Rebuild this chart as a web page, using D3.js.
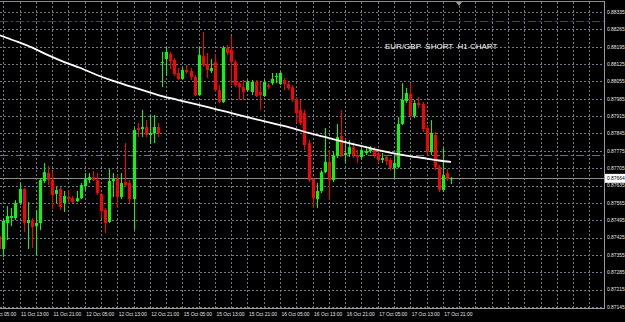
<!DOCTYPE html>
<html>
<head>
<meta charset="utf-8">
<script src="https://cdn.jsdelivr.net/npm/d3@7"></script>
<style>
body { margin: 0; background: #000; }
svg { display: block; }
</style>
</head>
<body>
<script>
(function(document, window){
'use strict';

// H1 bars, 11 Oct 08:00 .. 17 Oct 23:00 (weekend skipped)
var opens = [0.87431, 0.87379, 0.87484, 0.87504, 0.87504, 0.87564, 0.87621, 0.87484, 0.87496, 0.87471,
	0.87484, 0.87653, 0.87685, 0.87657, 0.87601, 0.87621, 0.87564, 0.87589, 0.87584, 0.87572,
	0.87584, 0.87633, 0.87657, 0.87669, 0.87657, 0.87601, 0.87536, 0.87488, 0.87653, 0.87661,
	0.87589, 0.87649, 0.87645, 0.87580, 0.87867, 0.87863, 0.87871, 0.87839, 0.87847, 0.87871,
	0.88129, 0.88145, 0.88166, 0.88141, 0.88089, 0.88065, 0.88101, 0.88097, 0.88073, 0.88000,
	0.88157, 0.88125, 0.88097, 0.88133, 0.88020, 0.87972, 0.88190, 0.88182, 0.88133, 0.88048,
	0.88032, 0.88020, 0.88012, 0.88053, 0.88012, 0.87996, 0.88040, 0.88048, 0.88073, 0.88044,
	0.88061, 0.88044, 0.88032, 0.87984, 0.87940, 0.87927, 0.87806, 0.87661, 0.87580, 0.87613,
	0.87689, 0.87730, 0.87657, 0.87754, 0.87835, 0.87758, 0.87762, 0.87790, 0.87758, 0.87750,
	0.87766, 0.87774, 0.87782, 0.87766, 0.87738, 0.87750, 0.87738, 0.87706, 0.87710, 0.87883,
	0.87976, 0.88004, 0.87915, 0.87968, 0.87964, 0.87867, 0.87770, 0.87839, 0.87710, 0.87617,
	0.87685, 0.87661];
var highs = [0.87447, 0.87500, 0.87552, 0.87544, 0.87576, 0.87645, 0.87625, 0.87568, 0.87504, 0.87536,
	0.87665, 0.87726, 0.87714, 0.87693, 0.87629, 0.87629, 0.87613, 0.87617, 0.87593, 0.87613,
	0.87645, 0.87685, 0.87685, 0.87693, 0.87685, 0.87605, 0.87544, 0.87701, 0.87685, 0.87677,
	0.87685, 0.87806, 0.87657, 0.87867, 0.87887, 0.87940, 0.87899, 0.87919, 0.87919, 0.87887,
	0.88174, 0.88194, 0.88174, 0.88149, 0.88109, 0.88113, 0.88121, 0.88109, 0.88081, 0.88194,
	0.88254, 0.88170, 0.88145, 0.88166, 0.88040, 0.88198, 0.88202, 0.88238, 0.88141, 0.88053,
	0.88061, 0.88061, 0.88061, 0.88061, 0.88053, 0.88061, 0.88048, 0.88089, 0.88089, 0.88093,
	0.88069, 0.88053, 0.88040, 0.87992, 0.87980, 0.87940, 0.87819, 0.87665, 0.87645, 0.87697,
	0.87867, 0.87778, 0.87770, 0.87883, 0.87940, 0.87819, 0.87819, 0.87810, 0.87778, 0.87786,
	0.87786, 0.87794, 0.87790, 0.87778, 0.87766, 0.87758, 0.87746, 0.87758, 0.87911, 0.88048,
	0.88028, 0.88048, 0.87980, 0.87992, 0.87972, 0.87879, 0.87899, 0.87851, 0.87718, 0.87786,
	0.87701, 0.87669];
var lows = [0.87367, 0.87346, 0.87415, 0.87471, 0.87496, 0.87556, 0.87447, 0.87379, 0.87383, 0.87354,
	0.87455, 0.87645, 0.87637, 0.87540, 0.87564, 0.87536, 0.87528, 0.87564, 0.87564, 0.87568,
	0.87580, 0.87617, 0.87645, 0.87653, 0.87597, 0.87504, 0.87443, 0.87484, 0.87589, 0.87544,
	0.87580, 0.87629, 0.87564, 0.87455, 0.87831, 0.87831, 0.87831, 0.87802, 0.87806, 0.87831,
	0.88032, 0.88077, 0.88105, 0.88077, 0.88061, 0.88061, 0.88085, 0.88061, 0.87996, 0.87996,
	0.88113, 0.88069, 0.88089, 0.88012, 0.87968, 0.87968, 0.88161, 0.88040, 0.88032, 0.87980,
	0.87980, 0.88012, 0.88000, 0.87992, 0.87940, 0.87992, 0.88024, 0.88040, 0.88048, 0.88040,
	0.88020, 0.88020, 0.87972, 0.87887, 0.87879, 0.87778, 0.87649, 0.87544, 0.87544, 0.87605,
	0.87685, 0.87576, 0.87649, 0.87746, 0.87750, 0.87730, 0.87750, 0.87746, 0.87726, 0.87742,
	0.87758, 0.87766, 0.87746, 0.87726, 0.87726, 0.87718, 0.87697, 0.87665, 0.87706, 0.87879,
	0.87968, 0.87907, 0.87907, 0.87948, 0.87851, 0.87758, 0.87758, 0.87697, 0.87609, 0.87609,
	0.87653, 0.87641];
var closes = [0.87379, 0.87492, 0.87512, 0.87512, 0.87564, 0.87621, 0.87484, 0.87496, 0.87467, 0.87484,
	0.87657, 0.87689, 0.87657, 0.87597, 0.87617, 0.87548, 0.87593, 0.87580, 0.87568, 0.87584,
	0.87637, 0.87661, 0.87669, 0.87657, 0.87605, 0.87532, 0.87484, 0.87653, 0.87661, 0.87589,
	0.87645, 0.87637, 0.87580, 0.87859, 0.87859, 0.87871, 0.87839, 0.87847, 0.87871, 0.87847,
	0.88133, 0.88174, 0.88137, 0.88085, 0.88065, 0.88101, 0.88093, 0.88073, 0.88000, 0.88161,
	0.88121, 0.88101, 0.88109, 0.88020, 0.87972, 0.88190, 0.88170, 0.88133, 0.88040, 0.88032,
	0.88012, 0.88053, 0.88053, 0.87996, 0.88000, 0.88053, 0.88032, 0.88065, 0.88077, 0.88089,
	0.88044, 0.88028, 0.87980, 0.87927, 0.87887, 0.87798, 0.87657, 0.87584, 0.87613, 0.87689,
	0.87730, 0.87657, 0.87758, 0.87831, 0.87758, 0.87766, 0.87790, 0.87758, 0.87750, 0.87778,
	0.87774, 0.87786, 0.87758, 0.87738, 0.87746, 0.87734, 0.87706, 0.87726, 0.87883, 0.87980,
	0.88008, 0.87915, 0.87968, 0.87960, 0.87863, 0.87770, 0.87847, 0.87710, 0.87617, 0.87677,
	0.87661, 0.87664];

// moving average read every 4 bars
var maBars = [0, 4, 8, 12, 16, 20, 24, 28, 32, 36, 40, 44, 48, 52, 56, 60, 64, 68, 72, 76,
	80, 84, 88, 92, 96, 100, 104, 108, 111];
var maValues = [0.88242, 0.88218, 0.88192, 0.88161, 0.88133, 0.88109, 0.88081, 0.88057, 0.88036, 0.88016,
	0.87996, 0.87980, 0.87964, 0.87948, 0.87932, 0.87915, 0.87899, 0.87883, 0.87867, 0.87847,
	0.87831, 0.87814, 0.87798, 0.87782, 0.87768, 0.87756, 0.87746, 0.87736, 0.87730];

var priceTicks = [0.88335, 0.88265, 0.88195, 0.88125, 0.88055, 0.87985, 0.87915, 0.87845, 0.87775,
	0.87705, 0.87635, 0.87565, 0.87495, 0.87425, 0.87355, 0.87285, 0.87215, 0.87145];
var timeLabels = ['11 Oct 05:00', '11 Oct 13:00', '11 Oct 21:00', '12 Oct 05:00', '12 Oct 13:00',
	'12 Oct 21:00', '15 Oct 05:00', '15 Oct 13:00', '15 Oct 21:00', '16 Oct 05:00', '16 Oct 13:00',
	'16 Oct 21:00', '17 Oct 05:00', '17 Oct 13:00', '17 Oct 21:00'];
var timeBars = [-3, 5, 13, 21, 29, 37, 45, 53, 61, 69, 77, 85, 93, 101, 109];

var redLevel = 0.88299;
var greenLevel = 0.87758;
var bidPrice = 0.87664;
var title = 'EUR/GBP  SHORT  H1 CHART';

var width = 625;
var height = 322;
var plotRight = 604;
var plotBottom = 308;

var x = d3.scaleLinear().domain([0, 111]).range([-0.8, 451]);
var y = d3.scaleLinear().domain([0.87145, 0.88335]).range([307, 12]);

var svg = d3.select('body').append('svg')
			.attr('width', width)
			.attr('height', height)
			.style('background', '#000');

svg.append('defs').append('clipPath').attr('id', 'plot')
	.append('rect').attr('x', 0).attr('y', 2).attr('width', plotRight).attr('height', plotBottom - 2);

var grid = svg.append('g').attr('stroke', '#6e7a88').attr('stroke-width', 1).attr('stroke-dasharray', '2,2');

grid.selectAll('line.h').data(priceTicks).enter().append('line')
	.attr('x1', 0).attr('x2', plotRight)
	.attr('y1', function(d){ return Math.round(y(d)) + 0.5; })
	.attr('y2', function(d){ return Math.round(y(d)) + 0.5; });

var gridBars = [];
for(var k=1; x(k) < plotRight; k+=4){
	gridBars.push(k);
}
grid.selectAll('line.v').data(gridBars).enter().append('line')
	.attr('y1', 2).attr('y2', plotBottom)
	.attr('x1', function(d){ return Math.round(x(d)) + 0.5; })
	.attr('x2', function(d){ return Math.round(x(d)) + 0.5; });

// level lines
svg.append('line').attr('x1', 0).attr('x2', plotRight)
	.attr('y1', Math.round(y(redLevel)) + 0.5).attr('y2', Math.round(y(redLevel)) + 0.5)
	.attr('stroke', '#b01818').attr('stroke-dasharray', '8,3,2,3');
svg.append('line').attr('x1', 0).attr('x2', plotRight)
	.attr('y1', Math.round(y(greenLevel)) + 0.5).attr('y2', Math.round(y(greenLevel)) + 0.5)
	.attr('stroke', '#2f9e2f').attr('stroke-dasharray', '8,3,2,3');
svg.append('line').attr('x1', 0).attr('x2', plotRight)
	.attr('y1', Math.round(y(bidPrice)) + 0.5).attr('y2', Math.round(y(bidPrice)) + 0.5)
	.attr('stroke', '#8a8a8a');

var bars = d3.range(opens.length).map(function(i){
	return {'i': i, 'o': opens[i], 'h': highs[i], 'l': lows[i], 'c': closes[i]};
});

var candles = svg.append('g').attr('clip-path', 'url(#plot)');

candles.selectAll('line').data(bars).enter().append('line')
	.attr('x1', function(d){ return Math.round(x(d.i)) + 0.5; })
	.attr('x2', function(d){ return Math.round(x(d.i)) + 0.5; })
	.attr('y1', function(d){ return y(d.h); })
	.attr('y2', function(d){ return y(d.l); })
	.attr('stroke', function(d){ return d.c >= d.o ? '#00ff00' : '#ff0000'; })
	.attr('stroke-width', 1);

candles.selectAll('rect').data(bars).enter().append('rect')
	.attr('x', function(d){ return Math.round(x(d.i)) - 1; })
	.attr('width', 3)
	.attr('y', function(d){ return y(Math.max(d.o, d.c)); })
	.attr('height', function(d){ return Math.max(1, Math.abs(y(d.o) - y(d.c))); })
	.attr('fill', function(d){ return d.c >= d.o ? '#00ff00' : '#ff0000'; });

var ma = d3.line()
	.x(function(d, i){ return x(maBars[i]); })
	.y(function(d){ return y(d); })
	.curve(d3.curveMonotoneX);

candles.append('path').datum(maValues)
	.attr('d', ma)
	.attr('fill', 'none')
	.attr('stroke', '#ffffff')
	.attr('stroke-width', 1.8);

// frame
svg.append('line').attr('x1', 0).attr('x2', plotRight).attr('y1', 1.5).attr('y2', 1.5).attr('stroke', '#8c8c8c');
svg.append('line').attr('x1', plotRight + 0.5).attr('x2', plotRight + 0.5).attr('y1', 1).attr('y2', plotBottom + 0.5).attr('stroke', '#9a9a9a');
svg.append('line').attr('x1', 0).attr('x2', plotRight + 1).attr('y1', plotBottom + 0.5).attr('y2', plotBottom + 0.5).attr('stroke', '#9a9a9a');
svg.append('path').attr('d', 'M456,2L462,2L459,6Z').attr('fill', '#9a9a9a');

var fontFamily = '"Liberation Sans", Arial, sans-serif';

svg.selectAll('text.price').data(priceTicks).enter().append('text')
	.attr('x', 607)
	.attr('y', function(d){ return y(d) + 1.8; })
	.attr('font-family', fontFamily)
	.attr('font-size', 4.9)
	.attr('fill', '#e6e6e6')
	.text(function(d){ return d.toFixed(5); });

svg.append('rect').attr('x', 605).attr('y', y(bidPrice) - 4.5).attr('width', 20).attr('height', 9).attr('fill', '#ffffff');
svg.append('text').attr('x', 607).attr('y', y(bidPrice) + 1.8)
	.attr('font-family', fontFamily).attr('font-size', 4.9).attr('fill', '#000')
	.text(bidPrice.toFixed(5));

svg.selectAll('text.time').data(timeLabels).enter().append('text')
	.attr('x', function(d, i){ return x(timeBars[i]) + 1.5; })
	.attr('y', 316)
	.attr('font-family', fontFamily)
	.attr('font-size', 4.9)
	.attr('fill', '#e6e6e6')
	.text(function(d){ return d; });

svg.append('text').attr('x', 385).attr('y', 49)
	.attr('font-family', fontFamily)
	.attr('font-size', 8)
	.attr('fill', '#ffffff')
	.attr('xml:space', 'preserve')
	.style('white-space', 'pre')
	.text(title);

})(document, window);
</script>
</body>
</html>
